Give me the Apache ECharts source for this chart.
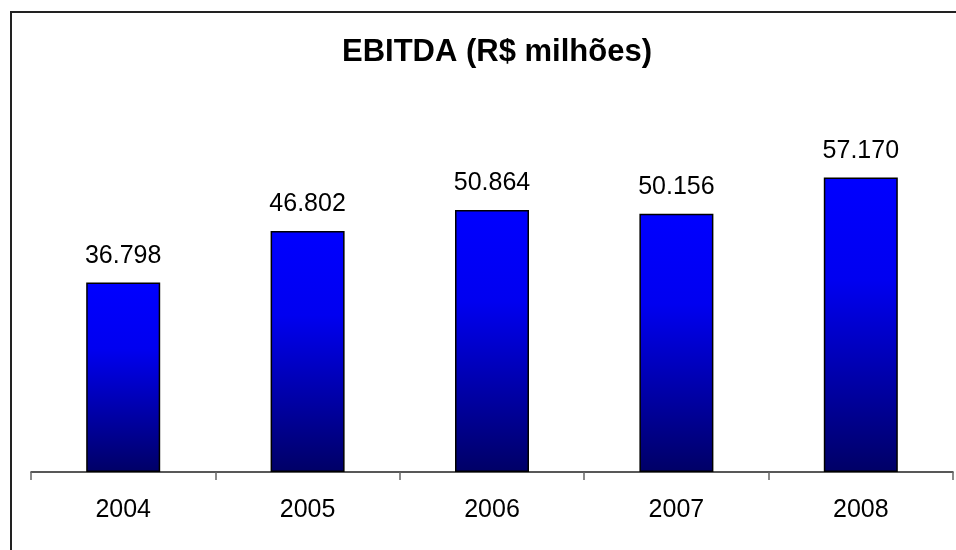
<!DOCTYPE html>
<html>
<head>
<meta charset="utf-8">
<script src="https://cdn.jsdelivr.net/npm/echarts@6/dist/echarts.min.js"></script>
<style>html,body{margin:0;padding:0;background:#fff}#c{width:956px;height:550px}</style>
</head>
<body>
<div id="c"></div>
<script>
var categories = ['2004', '2005', '2006', '2007', '2008'];
var ebitda = [36798, 46802, 50864, 50156, 57170];
var titleText = 'EBITDA (R$ milhões)';

function fmt(v) {
  var th = Math.floor(v / 1000), r = String(v % 1000);
  while (r.length < 3) r = '0' + r;
  return th + '.' + r;
}

var FONT = "'Liberation Sans', Arial, sans-serif";
var chart = echarts.init(document.getElementById('c'), null, {renderer: 'canvas'});
chart.setOption({
  animation: false,
  backgroundColor: '#fff',
  title: {
    text: titleText,
    left: 492,
    top: 32,
    textAlign: 'center',
    textStyle: {fontFamily: FONT, fontSize: 31, fontWeight: 'bold', color: '#000'}
  },
  graphic: [{
    type: 'rect',
    shape: {x: 11, y: 12, width: 1200, height: 1200},
    style: {fill: 'none', stroke: '#222', lineWidth: 2},
    silent: true
  }],
  grid: {left: 31, right: 3, top: 163, bottom: 78, containLabel: false},
  xAxis: {
    type: 'category',
    data: categories,
    boundaryGap: true,
    axisLine: {lineStyle: {color: '#222', width: 1.5}},
    axisTick: {show: true, alignWithLabel: false, length: 8, lineStyle: {color: '#666', width: 1.5}},
    axisLabel: {fontFamily: FONT, fontSize: 25, color: '#000', margin: 26},
    splitLine: {show: false}
  },
  yAxis: {
    type: 'value',
    min: 0,
    max: 60000,
    show: false,
    splitLine: {show: false}
  },
  series: [{
    type: 'bar',
    data: ebitda,
    barWidth: 74,
    itemStyle: {
      borderColor: '#000',
      borderWidth: 1.5,
      color: new echarts.graphic.LinearGradient(0, 0, 0, 1, [
        {offset: 0, color: '#0000ff'},
        {offset: 0.35, color: '#0000f0'},
        {offset: 1, color: '#000066'}
      ])
    },
    label: {
      show: true,
      position: 'top',
      distance: 14,
      fontFamily: FONT,
      fontSize: 25,
      color: '#000',
      formatter: function (p) { return fmt(p.value); }
    }
  }]
});
</script>
</body>
</html>
